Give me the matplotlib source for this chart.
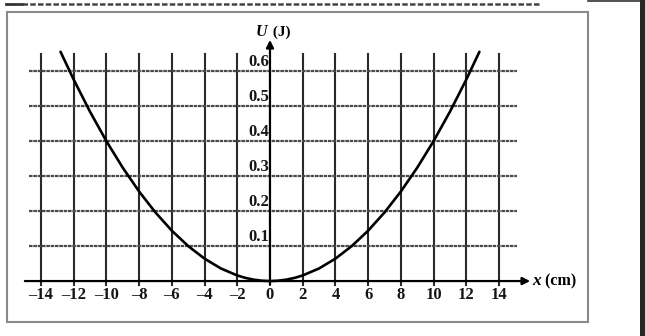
import matplotlib
matplotlib.use("Agg")
import matplotlib.pyplot as plt
from matplotlib.patches import Rectangle
from matplotlib.lines import Line2D

# data
x_cm = [-12.8, -12, -11, -10, -9, -8, -7, -6, -5, -4, -3, -2, -1.5, -1, -0.5, 0,
        0.5, 1, 1.5, 2, 3, 4, 5, 6, 7, 8, 9, 10, 11, 12, 12.8]
U_J = [0.655, 0.576, 0.484, 0.400, 0.324, 0.256, 0.196, 0.144, 0.100, 0.064, 0.036, 0.016, 0.009, 0.004, 0.001, 0.0,
       0.001, 0.004, 0.009, 0.016, 0.036, 0.064, 0.100, 0.144, 0.196, 0.256, 0.324, 0.400, 0.484, 0.576, 0.655]
x_ticks = [-14, -12, -10, -8, -6, -4, -2, 0, 2, 4, 6, 8, 10, 12, 14]
y_ticks = [0.1, 0.2, 0.3, 0.4, 0.5, 0.6]

serif = "Liberation Serif"

fig = plt.figure(figsize=(6.45, 3.36), dpi=100)
fig.patch.set_facecolor("white")
ax = fig.add_axes([0, 0, 1, 1])
ax.set_xlim(-16.50, 22.92)
ax.set_ylim(-0.157, 0.803)
ax.axis("off")

# frame round the figure
fig.patches.append(Rectangle((7 / 645, 14 / 336), 581 / 645, 310 / 336, transform=fig.transFigure,
                             fill=False, edgecolor="#8a8a8a", lw=1.5))
# dark strip on the right
fig.patches.append(Rectangle((640 / 645, 0), 5 / 645, 1, transform=fig.transFigure,
                             facecolor="#262626", edgecolor="none"))
# dashed rule at the top
fig.lines.append(Line2D([6 / 645, 22 / 645], [1 - 4 / 336] * 2, transform=fig.transFigure,
                        color="#333333", lw=2))
fig.lines.append(Line2D([22 / 645, 540 / 645], [1 - 4 / 336] * 2, transform=fig.transFigure,
                        color="#444444", lw=1.8, dashes=(2.2, 0.9)))
fig.lines.append(Line2D([588 / 645, 640 / 645], [1 - 1 / 336] * 2, transform=fig.transFigure,
                        color="#333333", lw=1.2))

# grid
top = 0.649
for xv in x_ticks:
    if xv == 0:
        continue
    ax.plot([xv, xv], [-0.011, top], color="#2a2a2a", lw=1.5, zorder=1)
for yv in y_ticks:
    ax.plot([x_ticks[0] - 0.73, x_ticks[-1] + 1.1], [yv, yv], color="#4a4a4a", lw=1.6,
            dashes=(1.6, 0.35), zorder=1)

# axes with arrows
ax.annotate("", xy=(x_ticks[-1] + 1.9, 0), xytext=(x_ticks[0] - 0.98, 0),
            arrowprops=dict(arrowstyle="-|>", lw=1.6, color="black", mutation_scale=11,
                            shrinkA=0, shrinkB=0), zorder=3)
ax.annotate("", xy=(0, 0.689), xytext=(0, -0.011),
            arrowprops=dict(arrowstyle="-|>", lw=1.6, color="black", mutation_scale=11,
                            shrinkA=0, shrinkB=0), zorder=3)

# curve
ax.plot(x_cm, U_J, color="black", lw=1.9, zorder=4, solid_capstyle="round")

# tick labels
for xv in x_ticks:
    lab = str(xv).replace("-", "\u2013")
    ax.text(xv, -0.041, lab, ha="center", va="center", fontsize=12, family=serif,
            fontweight="bold", color="#151515")
for yv in y_ticks:
    ax.text(-0.05, yv + 0.003, f"{yv:.1f}", ha="right", va="bottom", fontsize=12, family=serif,
            fontweight="bold", color="#151515")

# axis titles
ax.text(-0.15, 0.711, "U", ha="right", va="center", fontsize=11.5, family=serif,
        style="italic", fontweight="bold")
ax.text(-0.05, 0.711, " (J)", ha="left", va="center", fontsize=11, family=serif, fontweight="bold")
ax.text(x_ticks[-1] + 2.0, 0.0, "x", ha="left", va="center", fontsize=12.5, family=serif,
        style="italic", fontweight="bold")
ax.text(x_ticks[-1] + 2.55, 0.0, " (cm)", ha="left", va="center", fontsize=11.5, family=serif,
        fontweight="bold")

fig.savefig("out.png", dpi=100)
